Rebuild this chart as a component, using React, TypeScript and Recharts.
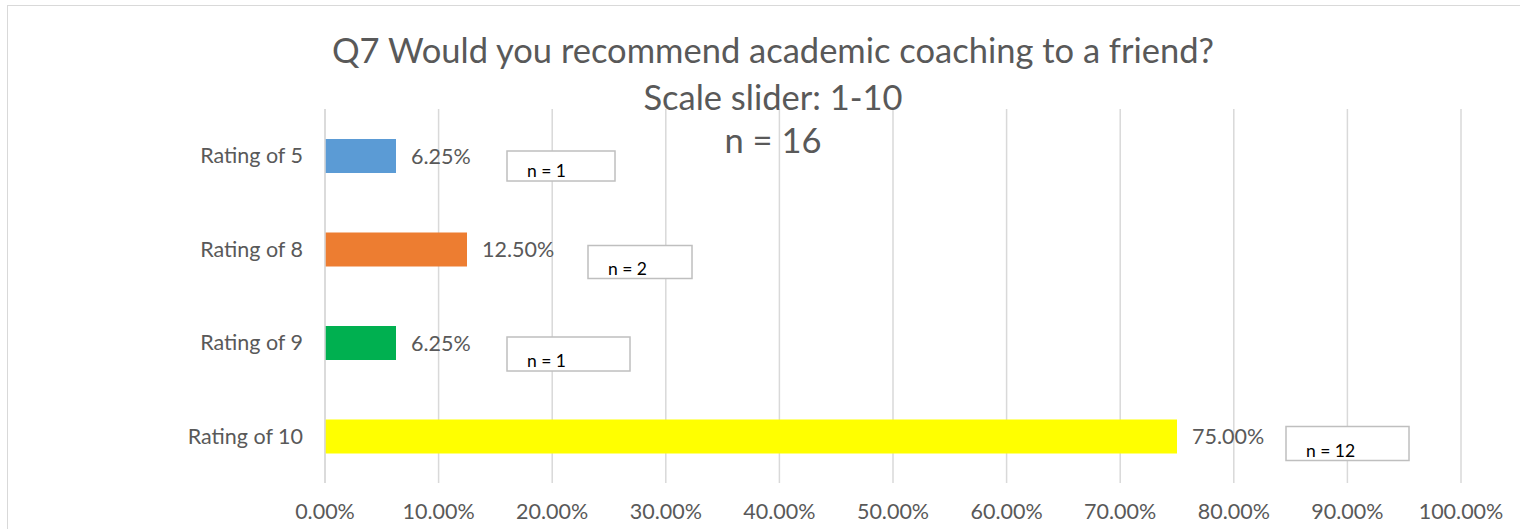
import { BarChart, Bar, XAxis, YAxis, CartesianGrid, Cell, LabelList } from 'recharts';

// Q7 responses, share of all respondents (percent) and raw counts
const ratings = ['Rating of 5', 'Rating of 8', 'Rating of 9', 'Rating of 10'];
const shares = [6.25, 12.5, 6.25, 75];
const counts = [1, 2, 1, 12];
const xTicks = [0, 10, 20, 30, 40, 50, 60, 70, 80, 90, 100];

const titleLines = ['Q7 Would you recommend academic coaching to a friend?', 'Scale slider: 1-10', 'n = 16'];

const barColors = ['#5b9bd5', '#ed7d31', '#00b050', '#ffff00'];
// callout boxes sit a little to the right of each bar's value label
const noteBox = [
  { dx: 111, dy: -5, w: 108, h: 30 },
  { dx: 121, dy: -4, w: 104, h: 33 },
  { dx: 111, dy: -6, w: 123, h: 34 },
  { dx: 109, dy: -10, w: 123, h: 34 },
];

const FONT = 'Lato, "Open Sans", sans-serif';
const GREY = '#595959';

const rows = ratings.map((rating, i) => ({ rating, share: shares[i], count: counts[i] }));

const pct = (v: number) => `${v.toFixed(2)}%`;

function CountNote(props: any) {
  const { x, y, width, height, index } = props;
  const b = noteBox[index];
  const left = x + width + b.dx;
  const top = y + height / 2 + b.dy;
  return (
    <g>
      <rect x={left} y={top} width={b.w} height={b.h} fill="#ffffff" stroke="#bfbfbf" strokeWidth={1.5} />
      <text x={left + 20} y={top + b.h - 4} fill="#000000" fontSize={17.5} fontFamily={FONT}>
        {`n = ${counts[index]}`}
      </text>
    </g>
  );
}

export default function App() {
  return (
    <div style={{ position: 'absolute', left: 0, top: 0, width: 1520, height: 529, overflow: 'hidden', background: '#fff' }}>
      <div style={{ position: 'absolute', left: 7, top: 5, width: 1540, height: 560, border: '1px solid #d9d9d9' }} />
      <div style={{ position: 'absolute', left: 0, top: 0 }}>
        <BarChart
          width={1520}
          height={529}
          data={rows}
          layout="vertical"
          margin={{ top: 109, right: 59, bottom: 16, left: 0 }}
          barCategoryGap={0}
        >
          <CartesianGrid horizontal={false} stroke="#d9d9d9" strokeWidth={1.5} />
          <XAxis
            type="number"
            domain={[0, 100]}
            ticks={xTicks}
            tickFormatter={pct}
            axisLine={false}
            tickLine={false}
            tickMargin={15}
            height={30}
            interval={0}
            tick={{ fill: GREY, fontSize: 21.5, fontFamily: FONT }}
          />
          <YAxis
            type="category"
            dataKey="rating"
            width={325}
            axisLine={{ stroke: '#d9d9d9', strokeWidth: 1.5 }}
            tickLine={false}
            tickMargin={16}
            tick={{ fill: GREY, fontSize: 21.5, fontFamily: FONT }}
          />
          <Bar dataKey="share" barSize={34} isAnimationActive={false}>
            {rows.map((r, i) => (
              <Cell key={r.rating} fill={barColors[i]} />
            ))}
            <LabelList
              dataKey="share"
              position="right"
              offset={15}
              formatter={(v: any) => pct(Number(v))}
              fill={GREY}
              fontSize={21.5}
              fontFamily={FONT}
            />
            <LabelList dataKey="count" content={CountNote} />
          </Bar>
        </BarChart>
      </div>
      {titleLines.map((line, i) => (
        <div
          key={line}
          style={{
            position: 'absolute',
            left: 0,
            width: 1546,
            top: [30, 77, 120][i],
            textAlign: 'center',
            fontFamily: FONT,
            fontSize: 34.5,
            lineHeight: '40px',
            color: GREY,
            whiteSpace: 'nowrap',
          }}
        >
          {line}
        </div>
      ))}
    </div>
  );
}
